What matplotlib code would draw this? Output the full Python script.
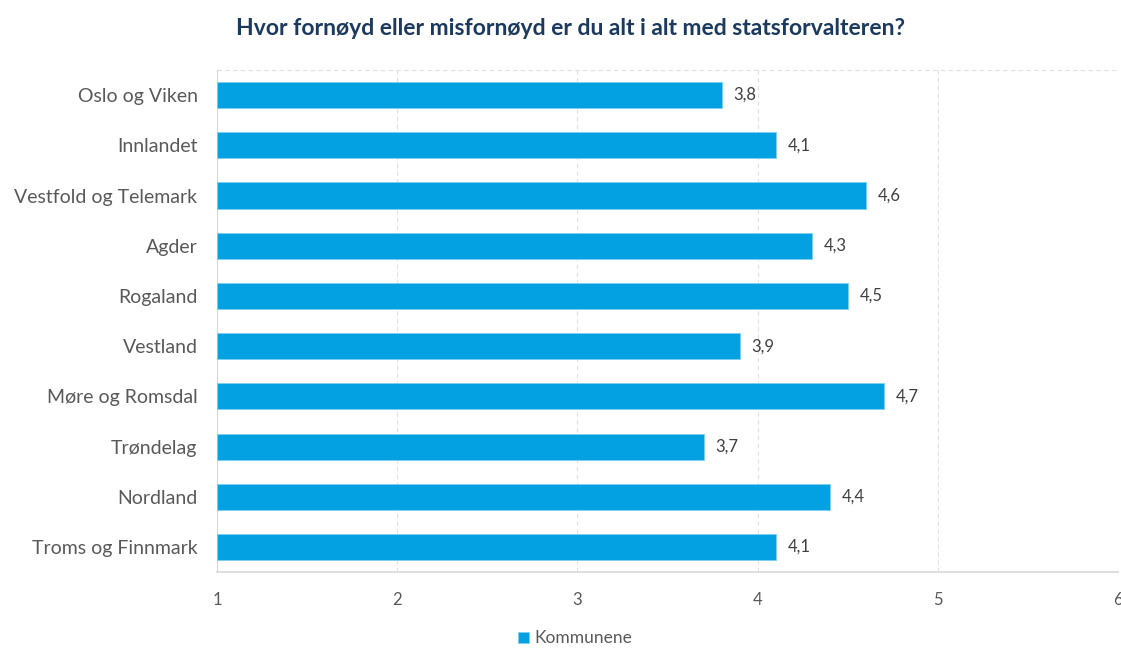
import numpy as np
import matplotlib.pyplot as plt

regions = ['Oslo og Viken', 'Innlandet', 'Vestfold og Telemark', 'Agder', 'Rogaland',
           'Vestland', 'Møre og Romsdal', 'Trøndelag', 'Nordland', 'Troms og Finnmark']
scores = [3.8, 4.1, 4.6, 4.3, 4.5, 3.9, 4.7, 3.7, 4.4, 4.1]
ticks = [1, 2, 3, 4, 5, 6]

plt.rcParams['font.family'] = ['Lato', 'DejaVu Sans']

fig = plt.figure(figsize=(11.21, 6.48), dpi=100)
ax = fig.add_axes([0.1936, 0.117, 0.8037, 0.775])

y = np.arange(len(regions))
ax.barh(y, np.array(scores) - 1, left=1, height=0.52, color='#03A0E2',
        edgecolor='#7FCFF0', linewidth=0.6, label='Kommunene', zorder=3)
for yi, v in zip(y, scores):
    ax.text(v + 0.065, yi, f'{v:.1f}'.replace('.', ','), va='center', ha='left',
            fontsize=12, color='#404040')

ax.set_xlim(1, 6)
ax.set_ylim(len(regions) - 0.5, -0.5)
ax.set_xticks(ticks)
ax.set_xticklabels([str(t) for t in ticks], fontsize=12, color='#595959')
ax.set_yticks(y)
ax.set_yticklabels(regions, fontsize=14, color='#595959')
ax.tick_params(axis='both', length=0)
ax.tick_params(axis='x', pad=14)
ax.tick_params(axis='y', pad=14)

ax.grid(axis='x', color='#E0E0E0', linestyle=(0, (4, 3)), linewidth=0.8, zorder=0)
for s in ['top', 'right']:
    ax.spines[s].set_visible(False)
ax.spines['left'].set_color('#D9D9D9')
ax.spines['bottom'].set_color('#D9D9D9')
ax.spines['bottom'].set_linewidth(1.2)
ax.axhline(-0.5, color='#E0E0E0', linestyle=(0, (4, 3)), linewidth=0.8)

fig.text(0.509, 0.956, 'Hvor fornøyd eller misfornøyd er du alt i alt med statsforvalteren?',
         ha='center', va='center', fontsize=16.5, fontweight='bold', color='#1B3A5E')

fig.legend(loc='center', bbox_to_anchor=(0.513, 0.015), frameon=False, fontsize=12.5,
           handlelength=0.6, handleheight=0.6, handletextpad=0.3,
           labelcolor='#595959')

fig.savefig('out.png', dpi=100)
